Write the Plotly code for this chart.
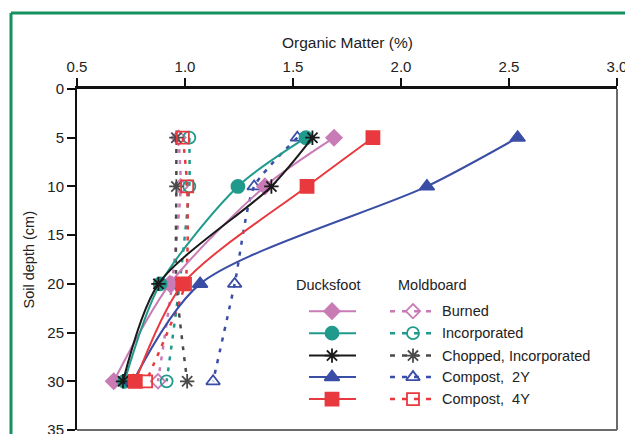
import plotly.graph_objects as go

# Soil depth (cm) of each sampling layer
depth = [5, 10, 20, 30]

# Organic matter (%) by residue treatment — Ducksfoot tillage (solid lines)
duck_burned = [1.69, 1.37, 0.93, 0.67]
duck_incorporated = [1.56, 1.245, 0.885, 0.72]
duck_chopped = [1.59, 1.40, 0.877, 0.713]
duck_compost2y = [2.54, 2.12, 1.07, 0.76]
duck_compost4y = [1.87, 1.565, 0.99, 0.77]

# Organic matter (%) by residue treatment — Moldboard tillage (dotted lines)
mold_burned = [0.97, 0.98, 0.94, 0.875]
mold_incorporated = [1.02, 1.02, 0.975, 0.915]
mold_chopped = [0.96, 0.96, 0.96, 1.01]
mold_compost2y = [1.52, 1.32, 1.23, 1.13]
mold_compost4y = [0.99, 1.01, 1.0, 0.82]

treatments = ["Burned", "Incorporated", "Chopped, Incorporated", "Compost,  2Y", "Compost,  4Y"]
x_ticks = [0.5, 1.0, 1.5, 2.0, 2.5, 3.0]
x_ticktext = ["0.5", "1.0", "1.5", "2.0", "2.5", "3.0"]
y_ticks = [0, 5, 10, 15, 20, 25, 30, 35]

PINK = "#c97bb6"
TEAL = "#1f9a8c"
BLACK = "#1a1a1a"
GREY = "#4a4a4a"
BLUE = "#3b4ea6"
RED = "#e8393e"

duck = [duck_burned, duck_incorporated, duck_chopped, duck_compost2y, duck_compost4y]
mold = [mold_burned, mold_incorporated, mold_chopped, mold_compost2y, mold_compost4y]
colors = [PINK, TEAL, BLACK, BLUE, RED]
mold_colors = [PINK, TEAL, GREY, BLUE, RED]
duck_symbols = ["diamond", "circle", "asterisk-open", "triangle-up", "square"]
mold_symbols = ["diamond-open", "circle-open", "asterisk-open", "triangle-up-open", "square-open"]
duck_sizes = [12, 13, 12, 13, 13]
mold_sizes = [11, 12, 12, 12, 12]

FONT = "Liberation Sans, Arial, sans-serif"
TXT = "#222"
DOT = "4px,7px"

fig = go.Figure()

# Moldboard profiles (dotted, open markers)
for vals, c, s, sz, name in zip(mold, mold_colors, mold_symbols, mold_sizes, treatments):
    fig.add_trace(go.Scatter(
        x=vals, y=depth, mode="lines+markers", name="Moldboard " + name,
        line=dict(color=c, width=2.5, dash=DOT, shape="spline", smoothing=0.6),
        marker=dict(symbol=s, size=sz, color=c, line=dict(color=c, width=1.8)),
        showlegend=False,
    ))

# Ducksfoot profiles (solid, filled markers)
for vals, c, s, sz, name in zip(duck, colors, duck_symbols, duck_sizes, treatments):
    fig.add_trace(go.Scatter(
        x=vals, y=depth, mode="lines+markers", name="Ducksfoot " + name,
        line=dict(color=c, width=2, shape="spline", smoothing=0.8),
        marker=dict(symbol=s, size=sz, color=c, line=dict(color=c, width=1.8)),
        showlegend=False,
    ))

# Hand-built two-column key drawn on an overlay axis (0-1 in both directions)
PX0, PX1, PY0, PY1 = 77.0, 617.0, 89.0, 430.5


def fx(px):
    return (px - PX0) / (PX1 - PX0)


def fy(py):
    return (PY1 - py) / (PY1 - PY0)


row_y = [311.5, 333.5, 356.0, 377.5, 399.5]
for i, (ry, c, mc) in enumerate(zip(row_y, colors, mold_colors)):
    fig.add_trace(go.Scatter(
        x=[fx(309), fx(356)], y=[fy(ry), fy(ry)], mode="lines",
        line=dict(color=c, width=2), xaxis="x2", yaxis="y2", showlegend=False, hoverinfo="skip"))
    fig.add_trace(go.Scatter(
        x=[fx(332)], y=[fy(ry)], mode="markers",
        marker=dict(symbol=duck_symbols[i], size=duck_sizes[i], color=c, line=dict(color=c, width=1.8)),
        xaxis="x2", yaxis="y2", showlegend=False, hoverinfo="skip"))
    fig.add_trace(go.Scatter(
        x=[fx(390), fx(438)], y=[fy(ry), fy(ry)], mode="lines",
        line=dict(color=mc, width=2.5, dash="5px,7px"), xaxis="x2", yaxis="y2", showlegend=False, hoverinfo="skip"))
    fig.add_trace(go.Scatter(
        x=[fx(413)], y=[fy(ry)], mode="markers",
        marker=dict(symbol=mold_symbols[i], size=mold_sizes[i], color=mc, line=dict(color=mc, width=1.8)),
        xaxis="x2", yaxis="y2", showlegend=False, hoverinfo="skip"))
    fig.add_annotation(x=fx(440), y=fy(ry), xref="x2", yref="y2", text=treatments[i],
                       showarrow=False, xanchor="left", yanchor="middle",
                       font=dict(family=FONT, size=14.5, color=TXT))

fig.add_annotation(x=fx(328), y=fy(285), xref="x2", yref="y2", text="Ducksfoot", showarrow=False,
                   xanchor="center", yanchor="middle", font=dict(family=FONT, size=14.5, color=TXT))
fig.add_annotation(x=fx(432), y=fy(285), xref="x2", yref="y2", text="Moldboard", showarrow=False,
                   xanchor="center", yanchor="middle", font=dict(family=FONT, size=14.5, color=TXT))

# Axis titles
fig.add_annotation(x=0.5, y=1, xref="paper", yref="paper", yshift=47, text="Organic Matter (%)",
                   xanchor="center", yanchor="middle",
                   showarrow=False, font=dict(family=FONT, size=15.5, color=TXT))
fig.add_annotation(x=0, y=0.5, xref="paper", yref="paper", xshift=-49, text="Soil depth (cm)",
                   xanchor="center", yanchor="middle",
                   textangle=-90, showarrow=False, font=dict(family=FONT, size=14.5, color=TXT))

# Grey right/bottom frame and green outer border
fig.add_shape(type="line", xref="paper", yref="paper", x0=1, x1=1, y0=0, y1=1,
              line=dict(color="#6a6a6a", width=2))
fig.add_shape(type="line", xref="paper", yref="paper", x0=0, x1=1, y0=0, y1=0,
              line=dict(color="#6a6a6a", width=2))
fig.add_shape(type="line", xref="paper", yref="paper", x0=fx(11), x1=1.2, y0=fy(13), y1=fy(13),
              line=dict(color="#14915f", width=3))
fig.add_shape(type="line", xref="paper", yref="paper", x0=fx(11), x1=fx(11), y0=fy(13), y1=-0.2,
              line=dict(color="#14915f", width=3))

fig.update_layout(
    width=625, height=434,
    margin=dict(l=77, r=8, t=89, b=3.5),
    paper_bgcolor="white", plot_bgcolor="white",
    font=dict(family=FONT, size=15, color=TXT),
    xaxis=dict(side="top", range=[0.5, 3.0], tickvals=x_ticks, ticktext=x_ticktext,
               ticks="outside", ticklen=8, tickwidth=2, tickcolor="#111",
               showline=True, linecolor="#111", linewidth=3, showgrid=False, zeroline=False,
               ticklabeloverflow="allow", automargin=False,
               tickfont=dict(family=FONT, size=15, color=TXT)),
    yaxis=dict(range=[35, 0], tickvals=y_ticks, ticks="outside", ticklen=8, tickwidth=2,
               tickcolor="#111", showline=True, linecolor="#111", linewidth=2,
               ticklabeloverflow="allow", automargin=False,
               showgrid=False, zeroline=False, tickfont=dict(family=FONT, size=15, color=TXT)),
    xaxis2=dict(overlaying="x", range=[0, 1], visible=False, fixedrange=True),
    yaxis2=dict(overlaying="y", range=[0, 1], visible=False, fixedrange=True),
    showlegend=False,
)

fig.write_html("out.html")
